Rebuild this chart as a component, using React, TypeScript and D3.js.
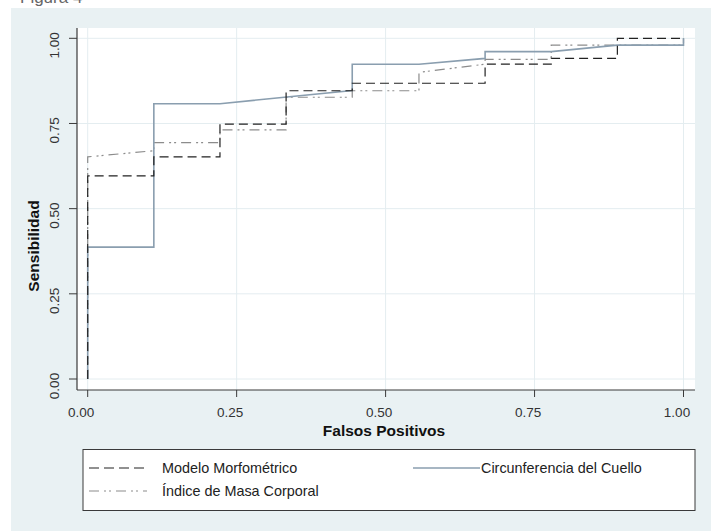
import React from "react";
import * as d3 from "d3";

// ---- data ----
const ticks = [0, 0.25, 0.5, 0.75, 1];
const tickLabels = ["0.00", "0.25", "0.50", "0.75", "1.00"];

const modeloFpr = [0, 0, 0.111, 0.111, 0.222, 0.222, 0.333, 0.333, 0.444, 0.444, 0.667, 0.667, 0.778, 0.778, 0.889, 0.889, 1];
const modeloTpr = [0, 0.596, 0.596, 0.652, 0.652, 0.748, 0.748, 0.846, 0.846, 0.868, 0.868, 0.924, 0.924, 0.941, 0.941, 1, 1];

const cuelloFpr = [0, 0, 0.111, 0.111, 0.222, 0.444, 0.444, 0.556, 0.667, 0.667, 0.778, 0.889, 1, 1];
const cuelloTpr = [0, 0.387, 0.387, 0.808, 0.808, 0.847, 0.924, 0.924, 0.941, 0.961, 0.961, 0.98, 0.98, 1];

const imcFpr = [0, 0, 0.111, 0.111, 0.222, 0.222, 0.333, 0.333, 0.444, 0.444, 0.556, 0.556, 0.667, 0.667, 0.778, 0.778, 1, 1];
const imcTpr = [0, 0.652, 0.67, 0.694, 0.694, 0.731, 0.731, 0.827, 0.827, 0.846, 0.846, 0.9, 0.924, 0.938, 0.938, 0.98, 0.98, 1];

const seriesNames = ["Modelo Morfométrico", "Circunferencia del Cuello", "Índice de Masa Corporal"];
const figureTitle = "Figura 4";

const FONT = "'Liberation Sans', Arial, Helvetica, sans-serif";

export default function App() {
  const x = d3.scaleLinear().domain([0, 1]).range([87.7, 683.5]);
  const y = d3.scaleLinear().domain([0, 1]).range([379, 38.3]);
  const plotL = 77, plotR = 695, plotT = 28, plotB = 390;

  const line = d3
    .line<[number, number]>()
    .x((d) => x(d[0]))
    .y((d) => y(d[1]));
  const zip = (a: number[], b: number[]) => a.map((v, i) => [v, b[i]] as [number, number]);

  const bg = "#e9f1f3";
  const grid = "#e4edf0";
  const axis = "#3a3a3a";
  const dashCol = "#222222";
  const solidCol = "#8a9eaf";
  const ddCol = "#8c8c8c";
  const dashArr = "9,5";
  const ddArr = "10,5,2,3,2,5";

  return (
    <svg
      width={711}
      height={531}
      style={{ position: "absolute", left: 0, top: 0, display: "block" }}
      fontFamily={FONT}
    >
      <rect x={0} y={0} width={711} height={531} fill="#ffffff" />
      <text x={20} y={3} fontSize={17} fill="#666">{figureTitle}</text>
      <rect x={11} y={8} width={700} height={523} fill={bg} />
      <rect x={plotL} y={plotT} width={plotR - plotL} height={plotB - plotT} fill="#ffffff" />

      {/* gridlines */}
      {ticks.map((t, i) => (
        <line key={"gy" + i} x1={plotL} x2={plotR} y1={y(t)} y2={y(t)} stroke={grid} strokeWidth={1} />
      ))}
      {ticks.map((t, i) => (
        <line key={"gx" + i} x1={x(t)} x2={x(t)} y1={plotT} y2={plotB} stroke={grid} strokeWidth={1} />
      ))}

      {/* curves */}
      <path d={line(zip(imcFpr, imcTpr)) || ""} fill="none" stroke={ddCol} strokeWidth={1.2} strokeDasharray={ddArr} />
      <path d={line(zip(cuelloFpr, cuelloTpr)) || ""} fill="none" stroke={solidCol} strokeWidth={1.6} />
      <path d={line(zip(modeloFpr, modeloTpr)) || ""} fill="none" stroke={dashCol} strokeWidth={1.2} strokeDasharray={dashArr} />

      {/* axes */}
      <line x1={plotL} x2={plotL} y1={plotT} y2={plotB} stroke={axis} strokeWidth={1.2} />
      <line x1={plotL} x2={plotR} y1={plotB} y2={plotB} stroke={axis} strokeWidth={1.2} />
      {ticks.map((t, i) => (
        <g key={"ty" + i}>
          <line x1={69} x2={plotL} y1={y(t)} y2={y(t)} stroke={axis} strokeWidth={1} />
          <text
            transform={`translate(59,${y(t) + 7}) rotate(-90)`}
            textAnchor="middle"
            fontSize={13.5}
            fill="#333"
          >
            {tickLabels[i]}
          </text>
        </g>
      ))}
      {ticks.map((t, i) => (
        <g key={"tx" + i}>
          <line x1={x(t)} x2={x(t)} y1={plotB} y2={397} stroke={axis} strokeWidth={1} />
          <text x={x(t) - 6.5} y={416.5} textAnchor="middle" fontSize={13.5} fill="#333">
            {tickLabels[i]}
          </text>
        </g>
      ))}

      {/* axis titles */}
      <text x={384} y={435.5} textAnchor="middle" fontSize={15.5} fontWeight="bold" fill="#111">
        Falsos Positivos
      </text>
      <text
        transform={`translate(39,246) rotate(-90)`}
        textAnchor="middle"
        fontSize={15.5}
        fontWeight="bold"
        fill="#111"
      >
        Sensibilidad
      </text>

      {/* legend */}
      <rect x={83} y={449.5} width={612} height={61} fill="#ffffff" stroke={axis} strokeWidth={1} />
      <line x1={89} x2={147} y1={468} y2={468} stroke={dashCol} strokeWidth={1.2} strokeDasharray="10,5" />
      <text x={162} y={473} fontSize={14.4} fill="#222">{seriesNames[0]}</text>
      <line x1={413} x2={480} y1={468} y2={468} stroke={solidCol} strokeWidth={1.4} />
      <text x={481} y={473} fontSize={14.4} fill="#222">{seriesNames[1]}</text>
      <line x1={89} x2={147} y1={491} y2={491} stroke={ddCol} strokeWidth={1.2} strokeDasharray={ddArr} />
      <text x={162} y={496} fontSize={14.4} fill="#222">{seriesNames[2]}</text>
    </svg>
  );
}
